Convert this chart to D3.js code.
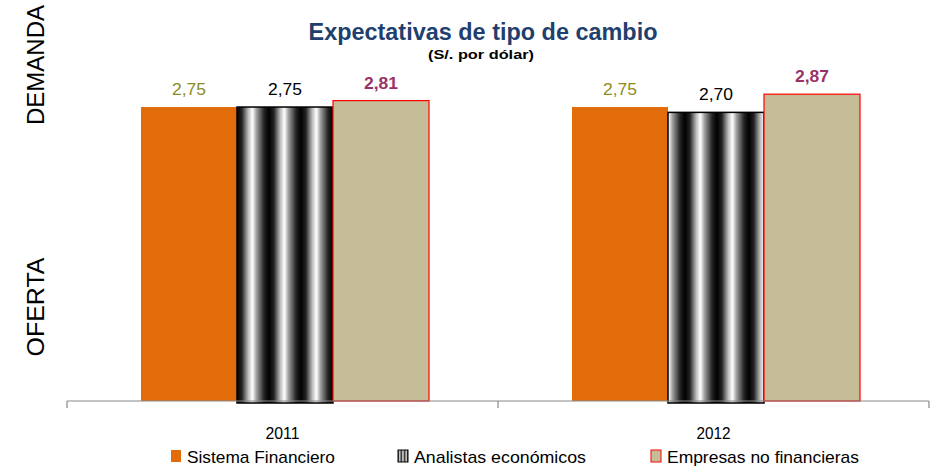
<!DOCTYPE html>
<html><head><meta charset="utf-8">
<script src="https://cdn.jsdelivr.net/npm/d3@7"></script>
<style>body{margin:0;background:#fff}svg{display:block}</style>
</head><body>
<svg id="c" width="935" height="467"></svg>
<script>
const categories = ["2011", "2012"];
const seriesNames = ["Sistema Financiero", "Analistas económicos", "Empresas no financieras"];
const sistema = [2.75, 2.75];
const analistas = [2.75, 2.70];
const empresas = [2.81, 2.87];
const labelText = [["2,75","2,75","2,81"],["2,75","2,70","2,87"]];

const svg = d3.select("#c");
const font = "'Liberation Sans',Arial,sans-serif";
const x0 = d3.scaleBand().domain(categories).range([67, 929]).paddingInner(0).paddingOuter(0);
const x1 = d3.scaleBand().domain(seriesNames).range([74, 362]).padding(0);
const y = d3.scaleLinear().domain([0, 3]).range([401, 80.3]);

const defs = svg.append("defs");
const g = defs.append("linearGradient").attr("id","stripe").attr("x1","0").attr("x2","1").attr("y1","0").attr("y2","0");
[[0,"#000"],[0.15,"#222"],[0.35,"#bbb"],[0.48,"#fff"],[0.62,"#999"],[0.85,"#222"],[1,"#000"]].forEach(s=>g.append("stop").attr("offset",s[0]).attr("stop-color",s[1]));
const pat = defs.append("pattern").attr("id","stripes").attr("patternUnits","userSpaceOnUse").attr("width",32).attr("height",400).attr("x",237);
pat.append("rect").attr("width",32).attr("height",400).attr("fill","url(#stripe)");
const pat2 = defs.append("pattern").attr("id","stripesL").attr("patternUnits","userSpaceOnUse").attr("width",3.3).attr("height",20).attr("x",398);
const g2 = defs.append("linearGradient").attr("id","stripe2").attr("x1","0").attr("x2","1");
[[0,"#000"],[0.5,"#fff"],[1,"#000"]].forEach(s=>g2.append("stop").attr("offset",s[0]).attr("stop-color",s[1]));
pat2.append("rect").attr("width",3.3).attr("height",20).attr("fill","url(#stripe2)");

const fills = ["#E36C0A","url(#stripes)","#C4BD97"];
const strokes = ["none","#000","#FF0000"];
const labelColors = ["#8C8C1E","#000","#993366"];
const labelWeights = ["normal","normal","bold"];
const series = [sistema, analistas, empresas];

categories.forEach((cat, ci) => {
  seriesNames.forEach((s, si) => {
    const v = series[si][ci];
    const bx = x0(cat) + x1(s);
    const bw = x1.bandwidth();
    svg.append("rect").attr("x", bx).attr("y", y(v)).attr("width", bw).attr("height", y(0) - y(v) + (si===1?2:0))
      .attr("fill", fills[si]).attr("stroke", strokes[si]).attr("stroke-width", si===1?1.5:1.2);
    svg.append("text").attr("x", bx + bw/2).attr("y", y(v) - 12).attr("text-anchor","middle")
      .attr("font-family", font).attr("font-size", 17).attr("fill", labelColors[si]).attr("font-weight", labelWeights[si])
      .attr("textLength", 34).attr("lengthAdjust","spacingAndGlyphs")
      .text(labelText[ci][si]);
  });
});

// axis
const ag = svg.append("g").attr("transform","translate(0,401)");
ag.append("line").attr("x1",67).attr("x2",929).attr("stroke","#888").attr("stroke-width",1.2);
[67, 498, 929].forEach(t => ag.append("line").attr("x1",t).attr("x2",t).attr("y1",0).attr("y2",7).attr("stroke","#888").attr("stroke-width",1.2));
categories.forEach(c => svg.append("text").attr("x", x0(c)+x0.bandwidth()/2).attr("y", 439).attr("text-anchor","middle")
  .attr("font-family", font).attr("font-size", 17).attr("fill","#000").attr("textLength",34).attr("lengthAdjust","spacingAndGlyphs").text(c));

// title
svg.append("text").attr("x",483).attr("y",40).attr("text-anchor","middle").attr("font-family",font)
  .attr("font-weight","bold").attr("font-size",23).attr("fill","#1F3F6E").attr("textLength",349).attr("lengthAdjust","spacingAndGlyphs").text("Expectativas de tipo de cambio");
svg.append("text").attr("x",481).attr("y",59).attr("text-anchor","middle").attr("font-family",font)
  .attr("font-weight","bold").attr("font-size",13.5).attr("fill","#000").attr("textLength",106).attr("lengthAdjust","spacingAndGlyphs").text("(S/. por dólar)");

// side labels
svg.append("text").attr("transform","translate(44,65) rotate(-90)").attr("text-anchor","middle").attr("font-family",font)
  .attr("font-size",23).attr("fill","#000").attr("textLength",120).attr("lengthAdjust","spacingAndGlyphs").text("DEMANDA");
svg.append("text").attr("transform","translate(44,307) rotate(-90)").attr("text-anchor","middle").attr("font-family",font)
  .attr("font-size",23).attr("fill","#000").attr("textLength",99).attr("lengthAdjust","spacingAndGlyphs").text("OFERTA");

// legend
const legX = [171, 398, 651];
const legW = [148, 172, 192];
const legFill = ["#E36C0A","url(#stripesL)","#C4BD97"];
const legStroke = ["none","#000","#FF0000"];
seriesNames.forEach((s, i) => {
  svg.append("rect").attr("x", legX[i]).attr("y", 450).attr("width", 10).attr("height", 12)
    .attr("fill", legFill[i]).attr("stroke", legStroke[i]).attr("stroke-width", 1);
  svg.append("text").attr("x", legX[i] + 16).attr("y", 463).attr("font-family", font).attr("font-size", 17).attr("fill","#000")
    .attr("textLength", legW[i]).attr("lengthAdjust","spacingAndGlyphs").text(s);
});
</script>
</body></html>
